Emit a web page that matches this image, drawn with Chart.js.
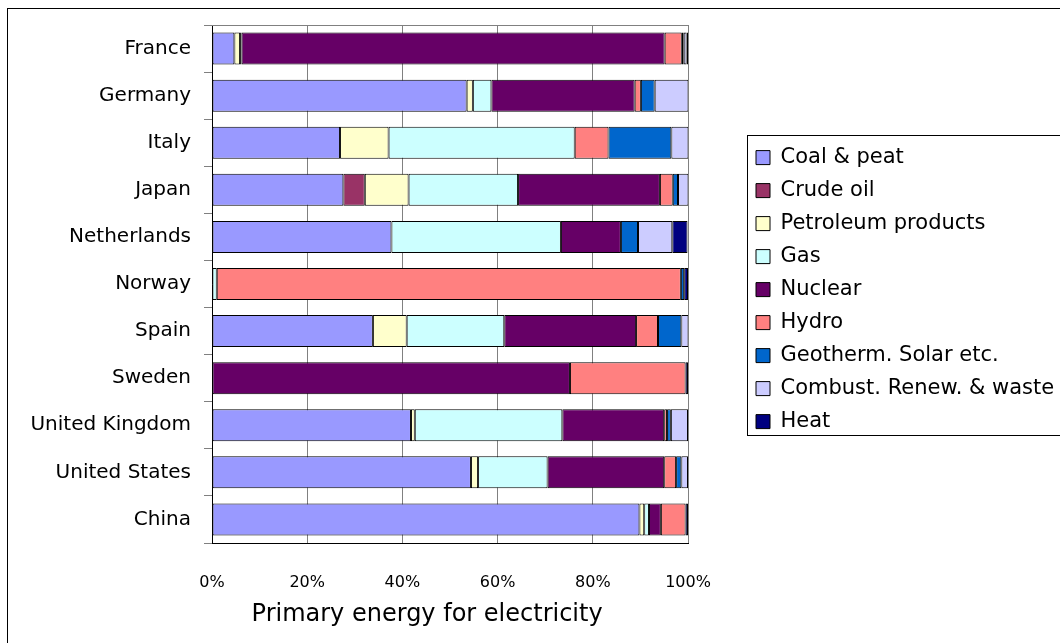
<!DOCTYPE html>
<html>
<head>
<meta charset="utf-8">
<title>Primary energy for electricity</title>
<script src="https://cdn.jsdelivr.net/npm/chart.js@4.4.1/dist/chart.umd.min.js"></script>
<style>
  html, body { margin: 0; padding: 0; background: #fff; }
  #wrap { width: 1060px; height: 643px; position: relative; }
</style>
</head>
<body>
<div id="wrap"><canvas id="energyChart"></canvas></div>
<script>
// share of each primary energy source used for electricity, in %
const countries = ["France", "Germany", "Italy", "Japan", "Netherlands", "Norway",
  "Spain", "Sweden", "United Kingdom", "United States", "China"];

const coalPeat     = [4.7, 53.5, 26.9, 27.6, 37.7, 0, 33.8, 0, 41.8, 54.4, 89.8];
const crudeOil     = [0, 0, 0, 4.5, 0, 0, 0, 0, 0, 0, 0];
const petroleum    = [1.2, 1.3, 10.2, 9.2, 0, 0, 7.1, 0, 0.8, 1.5, 1.0];
const gas          = [0.3, 3.9, 39.1, 23.0, 35.6, 1.0, 20.5, 0, 31.0, 14.6, 1.0];
const nuclear      = [88.9, 30.1, 0, 29.8, 12.6, 0, 27.7, 75.2, 21.4, 24.5, 2.5];
const hydro        = [3.6, 1.3, 7.1, 2.7, 0, 97.5, 4.6, 24.3, 0.6, 2.5, 5.2];
const geothermSolar = [0.4, 2.9, 13.2, 1.1, 3.6, 0.7, 4.9, 0, 0.8, 1.1, 0];
const combustRenew = [0.6, 7.1, 3.6, 2.2, 7.2, 0, 1.5, 0, 3.6, 1.4, 0];
const heat         = [0.3, 0, 0, 0, 3.2, 0.8, 0, 0.5, 0, 0, 0.5];

const xTicks = [0, 20, 40, 60, 80, 100];

const series = [
  { label: "Coal & peat", data: coalPeat, color: "#9999FF" },
  { label: "Crude oil", data: crudeOil, color: "#993366" },
  { label: "Petroleum products", data: petroleum, color: "#FFFFCC" },
  { label: "Gas", data: gas, color: "#CCFFFF" },
  { label: "Nuclear", data: nuclear, color: "#660066" },
  { label: "Hydro", data: hydro, color: "#FF8080" },
  { label: "Geotherm. Solar etc.", data: geothermSolar, color: "#0066CC" },
  { label: "Combust. Renew. & waste", data: combustRenew, color: "#CCCCFF" },
  { label: "Heat", data: heat, color: "#000080" },
];

// outer frame, plot border and the box round the legend
const framePlugin = {
  id: "frames",
  beforeDraw(chart) {
    const ctx = chart.ctx;
    ctx.save();
    ctx.strokeStyle = "#000";
    ctx.lineWidth = 1;
    ctx.strokeRect(7.5, 8.5, 2000, 2000);
    ctx.restore();
  },
  afterDraw(chart) {
    const ctx = chart.ctx;
    const area = chart.chartArea;
    ctx.save();
    ctx.strokeStyle = "#808080";
    ctx.lineWidth = 1;
    ctx.beginPath();
    ctx.moveTo(area.left, Math.round(area.top) + 0.5);
    ctx.lineTo(area.right, Math.round(area.top) + 0.5);
    ctx.stroke();

    const hb = chart.legend.legendHitBoxes;
    if (hb && hb.length) {
      const first = hb[0];
      const last = hb[hb.length - 1];
      const left = Math.round(first.left) - 8.5;
      const top = Math.round(first.top) - 11.5;
      const bottom = Math.round(last.top + last.height) + 3.5;
      ctx.strokeStyle = "#000";
      ctx.strokeRect(left, top, 2000, bottom - top);
    }
    ctx.restore();
  },
};

Chart.defaults.font.family = "'DejaVu Sans', sans-serif";
Chart.defaults.color = "#000";

new Chart(document.getElementById("energyChart"), {
  type: "bar",
  data: {
    labels: countries,
    datasets: series.map((s) => ({
      label: s.label,
      data: s.data,
      backgroundColor: s.color,
      borderColor: "#000",
      borderWidth: 1,
      borderSkipped: false,
      barPercentage: 0.68,
      categoryPercentage: 1,
    })),
  },
  options: {
    indexAxis: "y",
    responsive: true,
    maintainAspectRatio: false,
    animation: false,
    layout: { padding: { top: 24, left: 0, right: 0, bottom: 0 } },
    scales: {
      x: {
        stacked: true,
        min: 0,
        max: 100,
        afterBuildTicks: (scale) => {
          scale.ticks = xTicks.map((v) => ({ value: v }));
        },
        afterFit: (scale) => {
          scale.height = 100;
        },
        ticks: {
          font: { size: 16 },
          padding: 30,
          callback: (value) => value + "%",
        },
        grid: {
          color: "#808080",
          drawTicks: false,
        },
        border: { color: "#000" },
        title: {
          display: true,
          // trailing spaces nudge the centred title left, as in the original
          text: "Primary energy for electricity      ",
          font: { size: 24 },
          padding: { top: 0, bottom: 14 },
        },
      },
      y: {
        stacked: true,
        afterFit: (scale) => {
          scale.width = 212;
        },
        ticks: {
          font: { size: 20 },
          padding: 13,
        },
        grid: {
          drawOnChartArea: false,
          tickLength: 8,
          color: "#808080",
        },
        border: { color: "#000" },
      },
      spacer: {
        axis: "y",
        position: "right",
        display: true,
        ticks: { display: false },
        grid: { display: false },
        border: { display: false },
        afterFit: (scale) => {
          scale.width = 56;
        },
      },
    },
    plugins: {
      legend: {
        position: "right",
        fullSize: false,
        maxWidth: 316,
        title: {
          display: true,
          text: " ",
          font: { size: 1 },
          padding: { top: 0, bottom: 10 },
        },
        labels: {
          boxWidth: 14,
          boxHeight: 14,
          padding: 12,
          font: { size: 21 },
          color: "#000",
        },
      },
      tooltip: { enabled: false },
    },
  },
  plugins: [framePlugin],
});
</script>
</body>
</html>
